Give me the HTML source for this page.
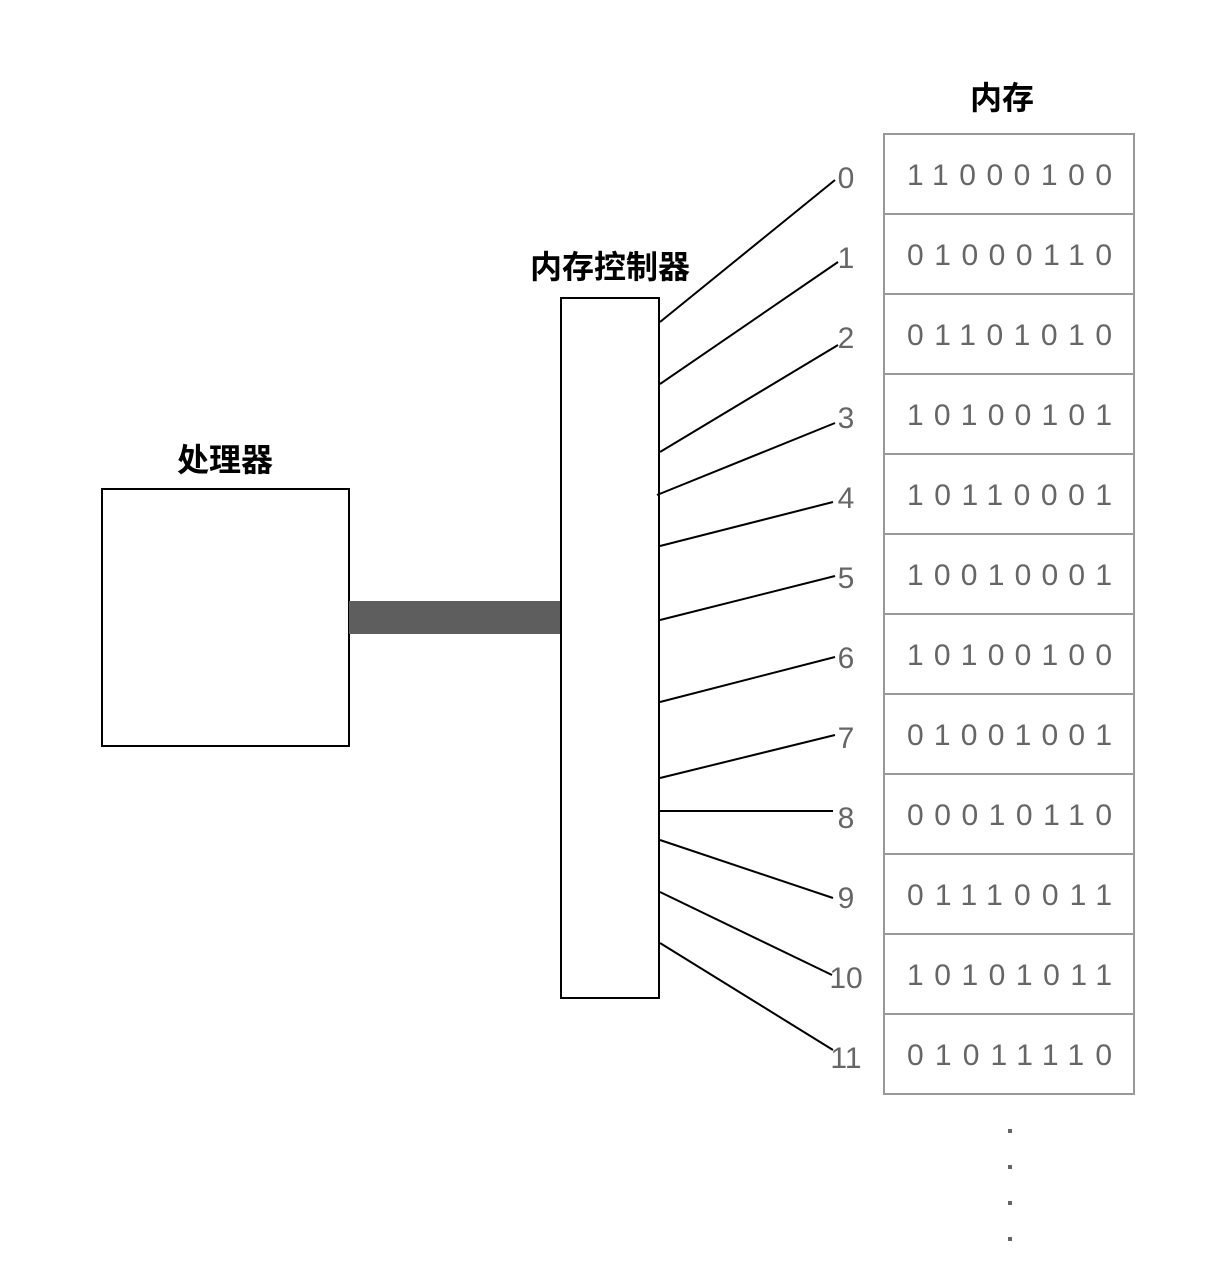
<!DOCTYPE html>
<html><head><meta charset="utf-8"><style>body{margin:0;background:#fff}</style></head><body>
<svg width="1216" height="1276" xmlns="http://www.w3.org/2000/svg">
<rect width="1216" height="1276" fill="#fff"/>
<g font-family="'Liberation Sans','Noto Sans CJK SC',sans-serif" font-weight="bold" font-size="32" fill="#000" text-anchor="middle">
<text x="225" y="471">处理器</text>
<text x="610" y="278">内存控制器</text>
<text x="1002" y="109">内存</text>
</g>
<rect x="102" y="489" width="247" height="257" fill="#fff" stroke="#000" stroke-width="2"/>
<rect x="349" y="601" width="212" height="33" fill="#5e5e5e"/>
<rect x="561" y="298" width="98" height="700" fill="#fff" stroke="#000" stroke-width="2"/>
<g stroke="#000" stroke-width="2">
<line x1="660" y1="322" x2="835" y2="180"/>
<line x1="660" y1="384" x2="838" y2="262"/>
<line x1="660" y1="452" x2="838" y2="345"/>
<line x1="657" y1="495" x2="835" y2="423"/>
<line x1="660" y1="546" x2="833" y2="502"/>
<line x1="660" y1="620" x2="835" y2="576"/>
<line x1="660" y1="702" x2="835" y2="657"/>
<line x1="660" y1="778" x2="835" y2="735"/>
<line x1="660" y1="811" x2="833" y2="811"/>
<line x1="660" y1="840" x2="833" y2="898"/>
<line x1="660" y1="892" x2="832" y2="975"/>
<line x1="660" y1="943" x2="833" y2="1050"/>
</g>
<g fill="#fff" stroke="#999" stroke-width="2">
<rect x="884" y="134" width="250" height="960"/>
</g>
<g stroke="#999" stroke-width="2">
<line x1="884" y1="214" x2="1134" y2="214"/><line x1="884" y1="294" x2="1134" y2="294"/>
<line x1="884" y1="374" x2="1134" y2="374"/><line x1="884" y1="454" x2="1134" y2="454"/>
<line x1="884" y1="534" x2="1134" y2="534"/><line x1="884" y1="614" x2="1134" y2="614"/>
<line x1="884" y1="694" x2="1134" y2="694"/><line x1="884" y1="774" x2="1134" y2="774"/>
<line x1="884" y1="854" x2="1134" y2="854"/><line x1="884" y1="934" x2="1134" y2="934"/>
<line x1="884" y1="1014" x2="1134" y2="1014"/>
</g>
<g font-family="'Liberation Sans',sans-serif" font-size="30" fill="#666" text-anchor="middle">
<text x="846" y="188">0</text><text x="846" y="268">1</text><text x="846" y="348">2</text>
<text x="846" y="428">3</text><text x="846" y="508">4</text><text x="846" y="588">5</text>
<text x="846" y="668">6</text><text x="846" y="748">7</text><text x="846" y="828">8</text>
<text x="846" y="908">9</text><text x="846" y="988">10</text><text x="846" y="1068">11</text>
</g>
<g font-family="'Liberation Sans',sans-serif" font-size="30" fill="#666">
<text x="907" y="185" textLength="205" lengthAdjust="spacing">11000100</text>
<text x="907" y="265" textLength="205" lengthAdjust="spacing">01000110</text>
<text x="907" y="345" textLength="205" lengthAdjust="spacing">01101010</text>
<text x="907" y="425" textLength="205" lengthAdjust="spacing">10100101</text>
<text x="907" y="505" textLength="205" lengthAdjust="spacing">10110001</text>
<text x="907" y="585" textLength="205" lengthAdjust="spacing">10010001</text>
<text x="907" y="665" textLength="205" lengthAdjust="spacing">10100100</text>
<text x="907" y="745" textLength="205" lengthAdjust="spacing">01001001</text>
<text x="907" y="825" textLength="205" lengthAdjust="spacing">00010110</text>
<text x="907" y="905" textLength="205" lengthAdjust="spacing">01110011</text>
<text x="907" y="985" textLength="205" lengthAdjust="spacing">10101011</text>
<text x="907" y="1065" textLength="205" lengthAdjust="spacing">01011110</text>
</g>
<g fill="#666">
<rect x="1008" y="1129" width="4" height="4"/><rect x="1008" y="1165" width="4" height="4"/>
<rect x="1008" y="1201" width="4" height="4"/><rect x="1008" y="1237" width="4" height="4"/>
</g>
</svg>
</body></html>
